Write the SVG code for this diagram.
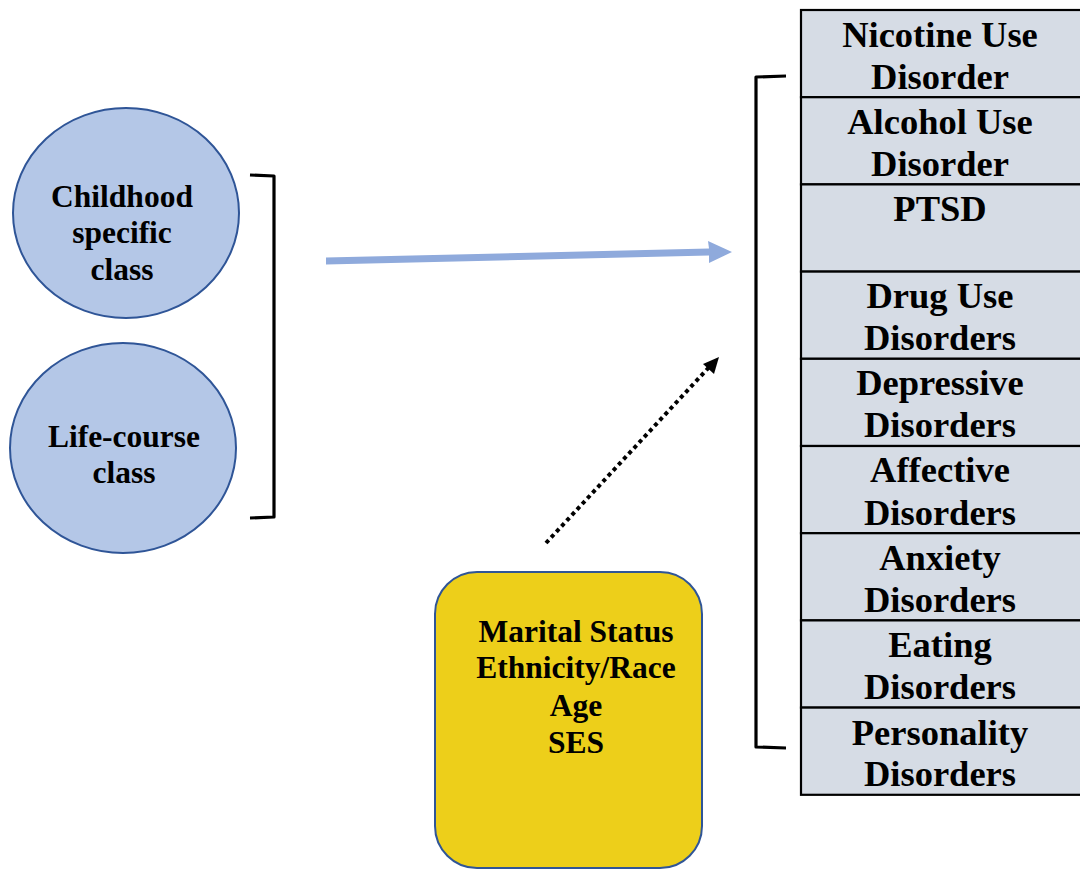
<svg xmlns="http://www.w3.org/2000/svg" width="1080" height="869" viewBox="0 0 1080 869">
  <defs>
    <style>
      .lbl { font-family: "Liberation Serif", "Times New Roman", serif; font-weight: bold; fill: #000; text-anchor: middle; }
      .cls { font-size: 31.5px; }
      .out { font-size: 36.5px; }
      .circle { fill: #B4C7E7; stroke: #2F5597; stroke-width: 2; }
      .cell { fill: #D6DCE5; stroke: #000; stroke-width: 2.2; }
      .brace { fill: none; stroke: #000; stroke-width: 3.2; stroke-linejoin: round; }
    </style>
    <marker id="dotHead" viewBox="0 0 10 10" refX="9" refY="5" markerWidth="5" markerHeight="5" orient="auto" markerUnits="strokeWidth">
      <path d="M0,0 L10,5 L0,10 Z" fill="#000"/>
    </marker>
  </defs>

  <rect width="1080" height="869" fill="#fff"/>

  <!-- latent classes -->
  <g id="childhood">
    <ellipse class="circle" cx="126" cy="213" rx="113" ry="105"/>
    <text class="lbl cls" x="122" y="207">Childhood</text>
    <text class="lbl cls" x="122" y="243">specific</text>
    <text class="lbl cls" x="122" y="280">class</text>
  </g>
  <g id="lifecourse">
    <ellipse class="circle" cx="123" cy="448" rx="113" ry="105"/>
    <text class="lbl cls" x="124" y="447">Life-course</text>
    <text class="lbl cls" x="124" y="483">class</text>
  </g>

  <g id="class-bracket">
    <path class="brace" d="M250,175 L274,176 L274,517 L250,518"/>
  </g>

  <!-- covariates -->
  <g id="covariates">
    <rect x="435" y="572" width="267" height="296" rx="42" ry="42" fill="#EDCF1A" stroke="#2F5597" stroke-width="2"/>
    <text class="lbl cls" x="576" y="642">Marital Status</text>
    <text class="lbl cls" x="576" y="678">Ethnicity/Race</text>
    <text class="lbl cls" x="576" y="716">Age</text>
    <text class="lbl cls" x="576" y="753">SES</text>
  </g>

  <!-- outcomes -->
  <g id="outcomes">
    <rect class="cell" x="801" y="10" width="282" height="87.2"/>
    <rect class="cell" x="801" y="97.2" width="282" height="87.2"/>
    <rect class="cell" x="801" y="184.4" width="282" height="87.2"/>
    <rect class="cell" x="801" y="271.6" width="282" height="87.2"/>
    <rect class="cell" x="801" y="358.8" width="282" height="87.2"/>
    <rect class="cell" x="801" y="446" width="282" height="87.2"/>
    <rect class="cell" x="801" y="533.2" width="282" height="87.2"/>
    <rect class="cell" x="801" y="620.4" width="282" height="87.2"/>
    <rect class="cell" x="801" y="707.6" width="282" height="87.2"/>

    <text class="lbl out" x="940" y="47">Nicotine Use</text>
    <text class="lbl out" x="940" y="89">Disorder</text>
    <text class="lbl out" x="940" y="134">Alcohol Use</text>
    <text class="lbl out" x="940" y="176">Disorder</text>
    <text class="lbl out" x="940" y="221">PTSD</text>
    <text class="lbl out" x="940" y="308">Drug Use</text>
    <text class="lbl out" x="940" y="350">Disorders</text>
    <text class="lbl out" x="940" y="395">Depressive</text>
    <text class="lbl out" x="940" y="437">Disorders</text>
    <text class="lbl out" x="940" y="482">Affective</text>
    <text class="lbl out" x="940" y="525">Disorders</text>
    <text class="lbl out" x="940" y="570">Anxiety</text>
    <text class="lbl out" x="940" y="612">Disorders</text>
    <text class="lbl out" x="940" y="657">Eating</text>
    <text class="lbl out" x="940" y="699">Disorders</text>
    <text class="lbl out" x="940" y="745">Personality</text>
    <text class="lbl out" x="940" y="786">Disorders</text>
  </g>

  <g id="outcome-bracket">
    <path class="brace" d="M786,76 L756,77 L756,747 L786,748"/>
  </g>

  <!-- connectors -->
  <g id="connectors">
    <path d="M326,257.5 L709,248.6 L708,241 L732,252 L709,263 L709,255.4 L326,264.5 Z" fill="#8FAADC"/>
    <line x1="546" y1="543" x2="712" y2="364" stroke="#000" stroke-width="4" stroke-dasharray="4 3.6"/>
    <path d="M719,357 L714,374 L703,364 Z" fill="#000"/>
  </g>
</svg>
